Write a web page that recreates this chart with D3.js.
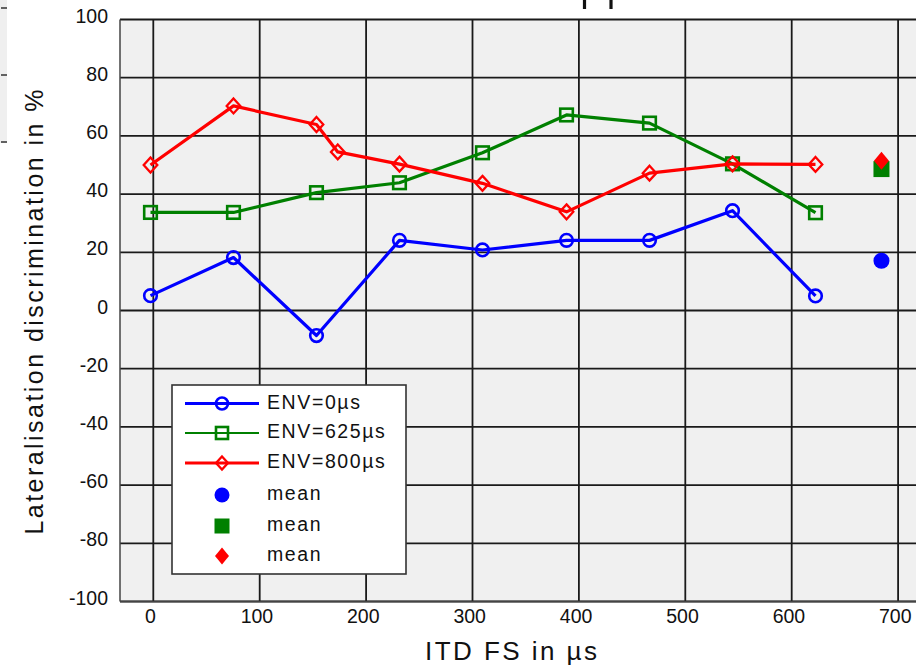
<!DOCTYPE html>
<html>
<head>
<meta charset="utf-8">
<script src="https://cdn.jsdelivr.net/npm/d3@7"></script>
<style>
  html, body { margin: 0; padding: 0; background: #fff; }
  svg { display: block; font-family: "Liberation Sans", Arial, Helvetica, sans-serif; }
</style>
</head>
<body>
<svg id="chart" width="916" height="666"></svg>
<script>
// ITD FS values (µs) and lateralisation discrimination (%) per envelope ITD
const itdFs = [0, 78, 156, 234, 312, 391, 469, 547, 625];
const env0 = [5.1, 18.2, -8.6, 24.1, 20.8, 24.1, 24.1, 34.3, 5.0];
const env625 = [33.7, 33.7, 40.5, 43.9, 54.2, 67.2, 64.4, 50.4, 33.6];
const itdFsEnv800 = [0, 78, 156, 176, 234, 312, 391, 469, 547, 625];
const env800 = [50, 70.3, 63.9, 54.5, 50.3, 43.7, 33.9, 47.2, 50.4, 50.2];
const meanX = 687;
const meanValues = [17.1, 48.6, 51.5];
const seriesNames = ['ENV=0µs', 'ENV=625µs', 'ENV=800µs'];
const xTicks = [0, 100, 200, 300, 400, 500, 600, 700];
const yTicks = [-100, -80, -60, -40, -20, 0, 20, 40, 60, 80, 100];

const svg = d3.select('#chart');

const x = d3.scaleLinear().domain([0, 700]).range([150.5, 150.5 + 744.8]);
const y = d3.scaleLinear().domain([-100, 100]).range([601.5, 19.5]);
const plotLeft = 120, plotRight = 930;
const gridOffset = 2.8;

// neighbouring panel fragment on the far left
svg.append('rect').attr('x', 0).attr('y', 0).attr('width', 7).attr('height', 143).attr('fill', '#efefef');
[8, 75, 142].forEach(t => {
  svg.append('line').attr('x1', 1).attr('x2', 7).attr('y1', t).attr('y2', t)
    .attr('stroke', '#333').attr('stroke-width', 1.5);
});

// fragment of the cut-off title above the plot
[584.5, 611].forEach(px => {
  svg.append('line').attr('x1', px).attr('x2', px).attr('y1', 0).attr('y2', 9)
    .attr('stroke', '#111').attr('stroke-width', 3.2);
});

// plot background
svg.append('rect')
  .attr('x', plotLeft).attr('y', y(100))
  .attr('width', plotRight - plotLeft).attr('height', y(-100) - y(100))
  .attr('fill', '#f0f0f0');

// grid
const grid = svg.append('g').attr('stroke', '#1a1a1a').attr('stroke-width', 1.8);
xTicks.forEach(t => {
  grid.append('line')
    .attr('x1', x(t) + gridOffset).attr('x2', x(t) + gridOffset)
    .attr('y1', y(100)).attr('y2', y(-100));
});
yTicks.forEach(t => {
  grid.append('line')
    .attr('x1', plotLeft).attr('x2', plotRight)
    .attr('y1', y(t)).attr('y2', y(t));
});

// frame
svg.append('line').attr('x1', plotLeft).attr('x2', plotLeft).attr('y1', y(100)).attr('y2', y(-100))
  .attr('stroke', '#444').attr('stroke-width', 1.5);
svg.append('line').attr('x1', plotLeft).attr('x2', plotRight).attr('y1', y(-100)).attr('y2', y(-100))
  .attr('stroke', '#444').attr('stroke-width', 1.5);

// tick labels
svg.append('g').selectAll('text').data(yTicks).join('text')
  .attr('x', 108).attr('y', d => y(d) - 2)
  .attr('text-anchor', 'end').attr('dominant-baseline', 'middle')
  .attr('font-size', '19.5px').attr('fill', '#111')
  .text(d => d);

svg.append('g').selectAll('text').data(xTicks).join('text')
  .attr('x', d => x(d)).attr('y', 618)
  .attr('text-anchor', 'middle').attr('dominant-baseline', 'middle')
  .attr('font-size', '19.5px').attr('fill', '#111')
  .text(d => d);

// axis titles
svg.append('text')
  .attr('x', 511).attr('y', 660)
  .attr('text-anchor', 'middle')
  .attr('font-size', '26px').attr('fill', '#111')
  .attr('textLength', 172).attr('lengthAdjust', 'spacing')
  .text('ITD FS in µs');

svg.append('text')
  .attr('transform', 'translate(43, 312) rotate(-90)')
  .attr('text-anchor', 'middle')
  .attr('font-size', '25px').attr('fill', '#111')
  .attr('textLength', 445).attr('lengthAdjust', 'spacing')
  .text('Lateralisation discrimination in %');

// marker helpers
const diamond = (w, h) => `M0,${-h / 2}L${w / 2},0L0,${h / 2}L${-w / 2},0Z`;

function drawMarker(g, shape, cx, cy, color, filled, size) {
  if (shape === 'circle') {
    g.append('circle').attr('cx', cx).attr('cy', cy).attr('r', size)
      .attr('fill', filled ? color : 'none').attr('stroke', color).attr('stroke-width', filled ? 0 : 2.6);
  } else if (shape === 'square') {
    g.append('rect').attr('x', cx - size).attr('y', cy - size)
      .attr('width', size * 2).attr('height', size * 2)
      .attr('fill', filled ? color : 'none').attr('stroke', color).attr('stroke-width', filled ? 0 : 2.6);
  } else {
    g.append('path').attr('transform', `translate(${cx},${cy})`)
      .attr('d', filled ? diamond(size * 2, size * 2.4) : diamond(size * 2, size * 2.2))
      .attr('fill', filled ? color : 'none').attr('stroke', color).attr('stroke-width', filled ? 0 : 2.3);
  }
}

const series = [
  { name: seriesNames[0], xs: itdFs, ys: env0, color: '#0000ff', shape: 'circle', size: 6.3, width: 3.2 },
  { name: seriesNames[1], xs: itdFs, ys: env625, color: '#008000', shape: 'square', size: 6.3, width: 3.2 },
  { name: seriesNames[2], xs: itdFsEnv800, ys: env800, color: '#ff0000', shape: 'diamond', size: 6.8, width: 3.2 }
];

const line = d3.line().x(d => x(d[0])).y(d => y(d[1]));

series.forEach(s => {
  const pts = s.xs.map((v, i) => [v, s.ys[i]]);
  const g = svg.append('g');
  g.append('path').datum(pts).attr('d', line)
    .attr('fill', 'none').attr('stroke', s.color).attr('stroke-width', s.width)
    .attr('stroke-linejoin', 'round');
  pts.forEach(p => drawMarker(g, s.shape, x(p[0]), y(p[1]), s.color, false, s.size));
});

// means
const meanSizes = [8, 8, 7.5];
series.forEach((s, i) => {
  drawMarker(svg, s.shape, x(meanX), y(meanValues[i]), s.color, true, meanSizes[i]);
});

// legend
const lg = svg.append('g').attr('transform', 'translate(172, 385)');
lg.append('rect').attr('x', 0).attr('y', 0).attr('width', 234).attr('height', 189)
  .attr('fill', '#fff').attr('stroke', '#333').attr('stroke-width', 1.6);
const rowY = [18.5, 48, 78, 110, 141, 171];
const legendWidths = [3, 1.8, 3];
series.forEach((s, i) => {
  lg.append('line').attr('x1', 13).attr('x2', 87).attr('y1', rowY[i]).attr('y2', rowY[i])
    .attr('stroke', s.color).attr('stroke-width', legendWidths[i]);
  drawMarker(lg, s.shape, 50, rowY[i], s.color, false, 6);
  lg.append('text').attr('x', 95).attr('y', rowY[i]).attr('dominant-baseline', 'middle')
    .attr('font-size', '19.5px').attr('letter-spacing', '1.6px').attr('fill', '#111')
    .text(s.name);
});
series.forEach((s, i) => {
  const ry = rowY[i + 3];
  drawMarker(lg, s.shape, 50, ry, s.color, true, i === 2 ? 7 : 7.5);
  lg.append('text').attr('x', 95).attr('y', ry).attr('dominant-baseline', 'middle')
    .attr('font-size', '19.5px').attr('letter-spacing', '1.6px').attr('fill', '#111')
    .text('mean');
});
</script>
</body>
</html>
